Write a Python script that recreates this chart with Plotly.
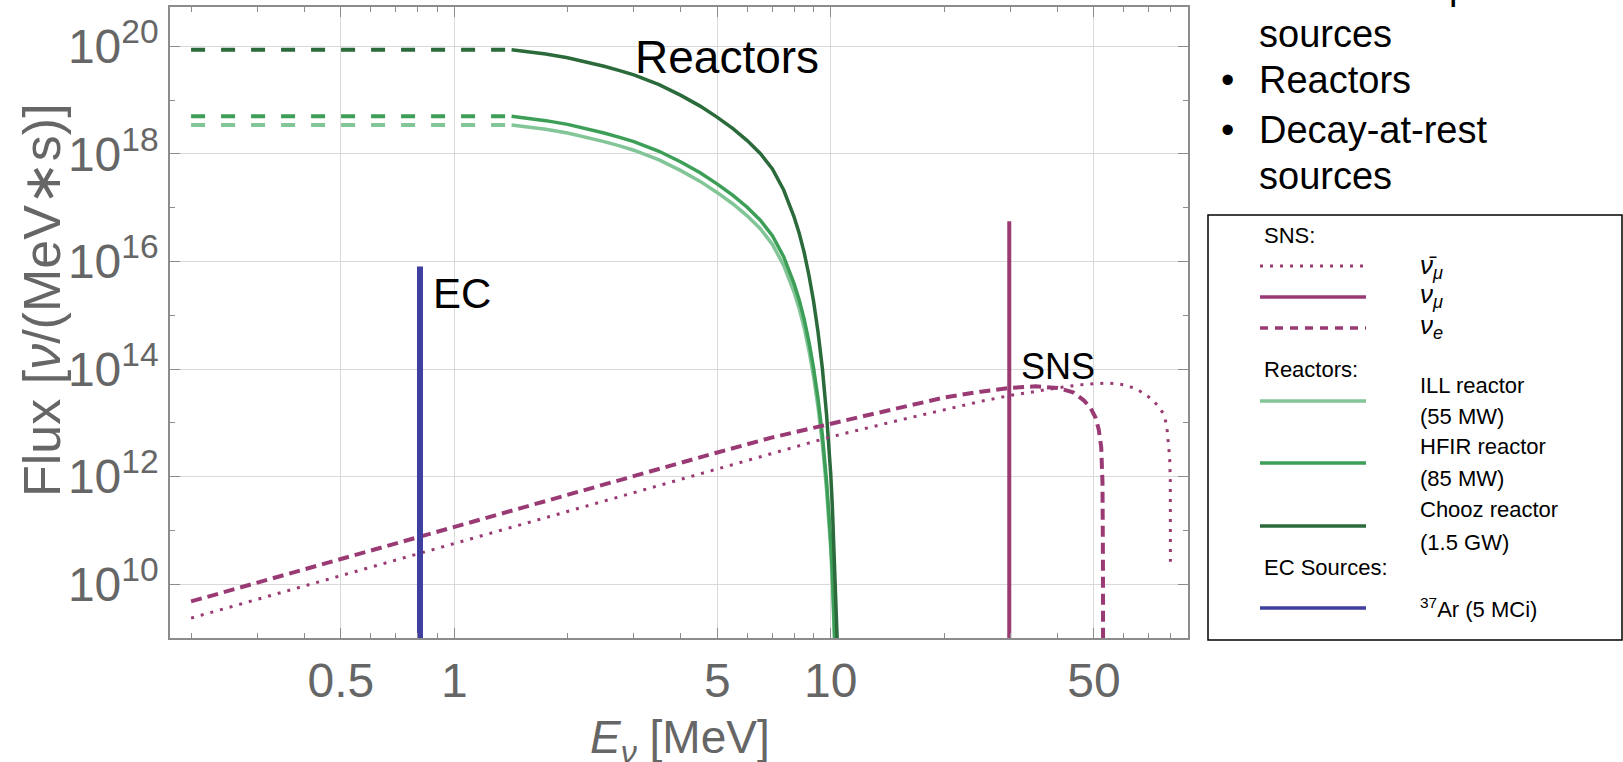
import plotly.graph_objects as go

# ---------------- data ----------------
# Reactor spectra: flat extrapolation (dashed) below ~1.4 MeV, then fitted spectrum (solid)
REACTOR_FLAT_E = [0.2, 1.42]
REACTOR_E = [1.42, 1.75, 2.0, 2.25, 2.5, 2.75, 3.0, 3.5, 4.0, 4.5, 5.0, 5.5, 6.0, 6.5, 7.0,
             7.5, 8.0, 8.25, 8.5, 8.75, 9.0, 9.25, 9.5, 9.75, 9.9, 10.0, 10.1, 10.2, 10.3, 10.4]
CHOOZ_LOG10 = [19.94, 19.86, 19.79, 19.71, 19.63, 19.55, 19.47, 19.29, 19.09, 18.89, 18.68,
               18.47, 18.25, 18.01, 17.72, 17.33, 16.82, 16.52, 16.17, 15.75, 15.27, 14.70,
               14.02, 13.15, 12.55, 12.05, 11.45, 10.75, 9.95, 9.00]
HFIR_LOG10 = [18.70, 18.62, 18.55, 18.47, 18.39, 18.31, 18.23, 18.05, 17.85, 17.65, 17.44,
              17.23, 17.01, 16.77, 16.48, 16.09, 15.58, 15.28, 14.93, 14.51, 14.03, 13.46,
              12.78, 11.91, 11.31, 10.81, 10.21, 9.51, 8.71, 7.76]
ILL_LOG10 = [18.54, 18.46, 18.39, 18.31, 18.23, 18.15, 18.07, 17.89, 17.69, 17.49, 17.28,
             17.07, 16.85, 16.61, 16.32, 15.93, 15.42, 15.12, 14.77, 14.35, 13.87, 13.30,
             12.62, 11.75, 11.15, 10.65, 10.05, 9.35, 8.55, 7.60]

# SNS decay-at-rest spectra
NUE_E = [0.2, 0.3, 0.5, 0.7, 1, 1.5, 2, 3, 5, 7, 10, 15, 20, 25, 30, 35, 40, 44, 47,
         49, 50.5, 51.5, 52.3, 52.7, 52.85, 52.9]
NUE_LOG10 = [9.68, 10.03, 10.47, 10.76, 11.07, 11.42, 11.67, 12.02, 12.45, 12.73, 12.99,
             13.27, 13.47, 13.58, 13.65, 13.68, 13.65, 13.57, 13.42, 13.28, 13.10, 12.88,
             12.55, 11.90, 10.50, 8.50]
NUMUBAR_E = [0.2, 0.3, 0.5, 0.7, 1, 1.5, 2, 3, 5, 7, 10, 15, 20, 25, 30, 35, 40, 45, 50,
             55, 60, 65, 70, 74, 76.5, 78, 78.9, 79.5, 79.8, 79.85]
NUMUBAR_LOG10 = [9.37, 9.72, 10.16, 10.45, 10.76, 11.11, 11.36, 11.71, 12.15, 12.44, 12.74,
                 13.04, 13.25, 13.40, 13.51, 13.59, 13.65, 13.70, 13.73, 13.74, 13.71, 13.63,
                 13.48, 13.32, 13.17, 12.97, 12.67, 12.35, 11.90, 10.42]
NUMU_E = [29.8, 29.8]          # monoenergetic pion-decay line
NUMU_LOG10 = [8.0, 16.75]

# Electron-capture source (37Ar)
EC_E = [0.811, 0.811]
EC_LOG10 = [8.0, 15.91]

X_TICKS = [0.5, 1, 5, 10, 50]
X_TICKTEXT = ["0.5", "1", "5", "10", "50"]
X_MINOR = [0.2, 0.3, 0.4, 0.6, 0.7, 0.8, 0.9, 2, 3, 4, 6, 7, 8, 9, 20, 30, 40, 60, 70, 80]
Y_EXP = [10, 12, 14, 16, 18, 20]
Y_MINOR_EXP = [11, 13, 15, 17, 19]

# ---------------- styles ----------------
PURPLE = "#9a3a74"
CHOOZ_C = "#2b6a3b"
HFIR_C = "#3d9e57"
ILL_C = "#82c597"
BLUE = "#3f3f9f"
GRAY_TXT = "#666666"
AX_C = "#8c8c8c"
NARROW = "Liberation Sans Narrow, Arial Narrow, Liberation Sans, Arial, sans-serif"
REG = "Liberation Sans, Arial, Helvetica, sans-serif"

W, H = 1623, 762
L, R, T, B = 170, 435, 7, 124
PW, PH = W - L - R, H - T - B


def pxx(px):
    return (px - L) / PW


def pxy(py):
    return (H - B - py) / PH


def pw(v):
    return [10.0 ** a for a in v]


fig = go.Figure()

# reactors
for logs, col in [(ILL_LOG10, ILL_C), (HFIR_LOG10, HFIR_C), (CHOOZ_LOG10, CHOOZ_C)]:
    fig.add_trace(go.Scatter(x=REACTOR_FLAT_E, y=pw([logs[0], logs[0]]), mode="lines",
                             line=dict(color=col, width=4, dash="14px,16px"),
                             hoverinfo="skip", showlegend=False))
    fig.add_trace(go.Scatter(x=REACTOR_E, y=pw(logs), mode="lines",
                             line=dict(color=col, width=3.5), showlegend=False))

# SNS
fig.add_trace(go.Scatter(x=NUMUBAR_E, y=pw(NUMUBAR_LOG10), mode="lines",
                         line=dict(color=PURPLE, width=3, dash="3px,7px"), showlegend=False))
fig.add_trace(go.Scatter(x=NUE_E, y=pw(NUE_LOG10), mode="lines",
                         line=dict(color=PURPLE, width=4, dash="11px,6px"), showlegend=False))
fig.add_trace(go.Scatter(x=NUMU_E, y=pw(NUMU_LOG10), mode="lines",
                         line=dict(color=PURPLE, width=4), showlegend=False))
# EC
fig.add_trace(go.Scatter(x=EC_E, y=pw(EC_LOG10), mode="lines",
                         line=dict(color=BLUE, width=6), showlegend=False))

axis_common = dict(type="log", showline=True, linecolor=AX_C, linewidth=1.5, mirror="allticks",
                   ticks="inside", ticklen=10, tickcolor=AX_C, tickwidth=1,
                   showgrid=True, gridcolor="#d9d9d9", gridwidth=1, zeroline=False,
                   tickfont=dict(family=NARROW, size=48, color=GRAY_TXT))

fig.update_xaxes(range=[-0.755, 1.949], tickmode="array", tickvals=X_TICKS, ticktext=X_TICKTEXT,
                 minor=dict(tickmode="array", tickvals=X_MINOR, ticks="inside", ticklen=5,
                            tickcolor=AX_C, showgrid=False),
                 **axis_common)
fig.update_yaxes(range=[9.0, 20.733], tickmode="array", tickvals=[10.0 ** e for e in Y_EXP],
                 ticktext=[f"10<sup>{e}</sup>" for e in Y_EXP],
                 minor=dict(tickmode="array", tickvals=[10.0 ** e for e in Y_MINOR_EXP], ticks="inside",
                            ticklen=5, tickcolor=AX_C, showgrid=False),
                 **axis_common)

ann = []


def add_text(x, y, text, size, family=REG, color="black", xa="center", ya="middle", ref="paper",
             angle=0):
    ann.append(dict(x=x, y=y, xref=ref, yref=ref if ref == "paper" else "y", text=text,
                    showarrow=False, xanchor=xa, yanchor=ya, textangle=angle,
                    font=dict(family=family, size=size, color=color)))


# in-plot labels (data coordinates, log10 for log axes)
ann.append(dict(x=0.7245, y=19.80, xref="x", yref="y", text="Reactors", showarrow=False,
                xanchor="center", yanchor="middle", font=dict(family=NARROW, size=46, color="black")))
ann.append(dict(x=1.604, y=14.05, xref="x", yref="y", text="SNS", showarrow=False,
                xanchor="center", yanchor="middle", font=dict(family=REG, size=36, color="black")))
ann.append(dict(x=0.0205, y=15.40, xref="x", yref="y", text="EC", showarrow=False,
                xanchor="center", yanchor="middle", font=dict(family=NARROW, size=42, color="black")))

# axis titles
add_text(pxx(42), pxy(300), "Flux [<i>ν</i>/(MeV∗s)]", 52, color=GRAY_TXT, angle=-90)
add_text(pxx(680), pxy(740), "<i>E</i><sub><i>ν</i></sub> [MeV]", 46, color=GRAY_TXT)

# right-hand bullet text
bullets = [(-14, True, "Electron capture"), (34, False, "sources"), (80, True, "Reactors"),
           (130, True, "Decay-at-rest"), (176, False, "sources")]
for yc, bul, txt in bullets:
    if bul:
        add_text(pxx(1227), pxy(yc), "•", 38)
    add_text(pxx(1257), pxy(yc), txt, 38, xa="left")

# legend box
shapes = [dict(type="rect", xref="paper", yref="paper", x0=pxx(1208), x1=pxx(1622),
               y0=pxy(640), y1=pxy(215), line=dict(color="black", width=1.5), fillcolor="white",
               layer="below")]
leg_lines = [(266, PURPLE, 3, "3px,7px"), (297, PURPLE, 3.5, "solid"), (328, PURPLE, 3.5, "8px,7px"),
             (401, ILL_C, 3.5, "solid"), (463, HFIR_C, 3.5, "solid"), (526, CHOOZ_C, 3.5, "solid"),
             (608, BLUE, 3.5, "solid")]
for yy, col, wd, ds in leg_lines:
    shapes.append(dict(type="line", xref="paper", yref="paper", x0=pxx(1260), x1=pxx(1366),
                       y0=pxy(yy), y1=pxy(yy), line=dict(color=col, width=wd, dash=ds)))

leg_txt = [(1262, 235, "SNS:"), (1262, 369, "Reactors:"), (1262, 567, "EC Sources:"),
           (1418, 385, "ILL reactor"), (1418, 416, "(55 MW)"),
           (1418, 447, "HFIR reactor"), (1418, 478, "(85 MW)"),
           (1418, 509, "Chooz reactor"), (1418, 542, "(1.5 GW)"),
           (1418, 608, "<sup>37</sup>Ar (5 MCi)")]
for xx, yy, txt in leg_txt:
    add_text(pxx(xx), pxy(yy), txt, 22, xa="left")
for yy, txt in [(267, "<i>ν̄</i><sub><i>μ</i></sub>"), (295, "<i>ν</i><sub><i>μ</i></sub>"),
                (326, "<i>ν</i><sub><i>e</i></sub>")]:
    add_text(pxx(1418), pxy(yy), txt, 26, xa="left")

fig.update_layout(width=W, height=H, margin=dict(l=L, r=R, t=T, b=B, autoexpand=False),
                  plot_bgcolor="white", paper_bgcolor="white", showlegend=False,
                  annotations=ann, shapes=shapes)

fig.write_html("out.html", config={"displayModeBar": False},
               post_script="document.body.style.margin='0';")
